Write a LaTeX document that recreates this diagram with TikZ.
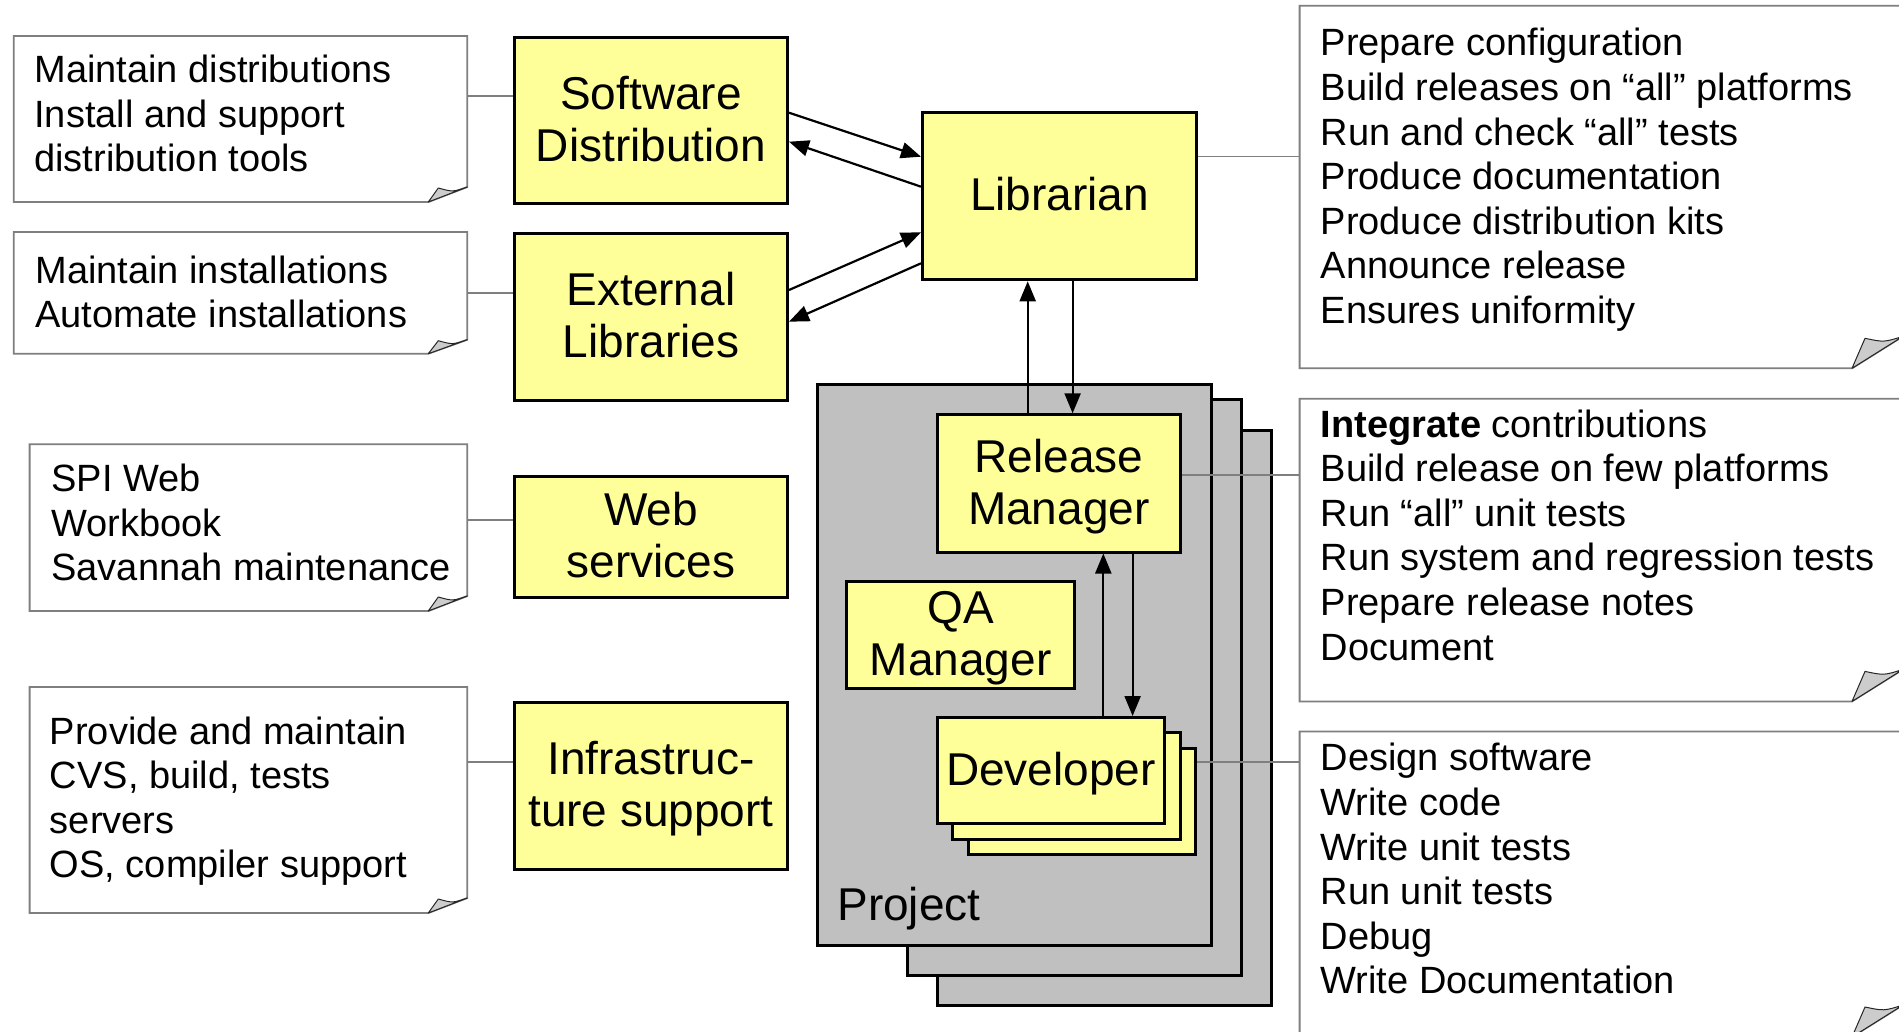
\documentclass[tikz,border=0pt]{standalone}
\usepackage{fontspec}
\setmainfont{Liberation Sans}
\usetikzlibrary{arrows.meta}
\definecolor{yfill}{HTML}{FFFF99}
\definecolor{projgray}{HTML}{C0C0C0}
\definecolor{notegray}{HTML}{7F7F7F}
\definecolor{foldgray}{HTML}{CCCCCC}
\newcommand\boxfont{\fontsize{23}{26}\selectfont}
\newcommand\notefont{\fontsize{19}{22.3}\selectfont}
\newcommand\btext[1]{\raisebox{-2.15pt}[\height][\depth]{\begin{tabular}{@{}c@{}}#1\end{tabular}}}
\newcommand\ntext[1]{\begin{tabular}[t]{@{}l@{}}#1\end{tabular}}
\tikzset{
  ybox/.style={draw=black, line width=1.5pt, fill=yfill, inner sep=0pt, font=\boxfont},
  sz/.style 2 args={minimum width=#1*0.5pt, minimum height=#2*0.5pt},
  projbox/.style={draw=black, line width=1.5pt, fill=projgray, inner sep=0pt},
  notearea/.style={inner sep=0pt, outer sep=0pt, anchor=north west},
  noteline/.style={draw=notegray, line width=0.9pt, fill=white},
  foldtri/.style={draw=black!85, line width=0.5pt, fill=foldgray, line join=round},
  notetext/.style={inner sep=0pt, anchor=base west, font=\notefont},
  link/.style={draw=notegray, line width=0.8pt},
  arr/.style={draw=black, line width=1.1pt, -{Triangle[length=10pt,width=8pt]}},
}
% #1 node name, #2 fold width, #3 fold height, #4 inner x, #5 inner y
\newcommand\drawnote[5]{%
  \draw[noteline] (#1.north west) -- (#1.north east) -- ([shift={(0,-#3)}]#1.south east)
    -- ([shift={(-#2,0)}]#1.south east) -- (#1.south west) -- cycle;
  \draw[foldtri] ([shift={(-#2,0)}]#1.south east) -- ([shift={(-#4,-#5)}]#1.south east)
    .. controls ([shift={(-#4/2,-#5+4)}]#1.south east) .. ([shift={(0,-#3)}]#1.south east) -- cycle;
}
\begin{document}
\begin{tikzpicture}[x=0.5pt,y=-0.5pt]
\useasboundingbox (0,0) rectangle (1899,1032);
\clip (0,0) rectangle (1899,1032);
\fill[white] (0,0) rectangle (1899,1032);

% project stack
\node[projbox, sz={333.4}{574.7}, anchor=north west] (proj3) at (936.3,429) {};
\node[projbox, sz={333.4}{575.5}, anchor=north west] (proj2) at (906.3,398.3) {};
\node[projbox, sz={394}{561}, anchor=north west] (proj1) at (815.7,383.3) {};
\node[inner sep=0pt, anchor=base west, font=\boxfont] (projlabel) at (837,920.5) {Project};

% yellow boxes
\node[ybox, sz={273}{166}, anchor=north west] (sd) at (513,36) {\btext{Software\\Distribution}};
\node[ybox, sz={273}{167}, anchor=north west] (el) at (513,232) {\btext{External\\Libraries}};
\node[ybox, sz={273}{121}, anchor=north west] (ws) at (513,474.6) {\btext{Web\\services}};
\node[ybox, sz={273}{166.5}, anchor=north west] (is) at (513,701) {\btext{Infrastruc-\\ture support}};
\node[ybox, sz={274}{167.3}, anchor=north west] (lib) at (921,111) {\btext{Librarian}};
\node[ybox, sz={243.4}{137.2}, anchor=north west] (rm) at (935.6,413.3) {\btext{Release\\Manager}};
\node[ybox, sz={228.4}{107}, anchor=north west] (qa) at (845,580) {\btext{QA\\Manager}};
\node[ybox, sz={227}{106.5}, anchor=north west] (dev3) at (967,746.7) {};
\node[ybox, sz={227.7}{106.4}, anchor=north west] (dev2) at (951.3,731.4) {};
\node[ybox, sz={227.7}{106.4}, anchor=north west] (dev) at (935.6,716) {\btext{Developer}};

% notes
\node[notearea, sz={453.5}{166}] (n1) at (13.8,36) {};
\node[notearea, sz={453.5}{121.7}] (n2) at (13.8,232) {};
\node[notearea, sz={437.7}{166.8}] (n3) at (29.6,444.2) {};
\node[notearea, sz={437.7}{226}] (n4) at (29.6,687) {};
\node[notearea, sz={603.4}{362.6}] (n5) at (1299.6,5.7) {};
\node[notearea, sz={603.4}{302.7}] (n6) at (1299.6,398.7) {};
\node[notearea, sz={603.4}{305.6}] (n7) at (1299.6,731.4) {};
\drawnote{n1}{39}{15}{29}{14}
\drawnote{n2}{39}{14}{29}{13}
\drawnote{n3}{39}{15}{29}{14}
\drawnote{n4}{39}{15}{29}{14}
\drawnote{n5}{51}{32}{38}{30}
\drawnote{n6}{51}{32}{38}{30}
\drawnote{n7}{51}{32}{38}{30}

\node[notetext] (n1t) at (34,82.5) {\ntext{Maintain distributions\\Install and support\\distribution tools}};
\node[notetext] (n2t) at (35,283.3) {\ntext{Maintain installations\\Automate installations}};
\node[notetext] (n3t) at (51,491.4) {\ntext{SPI Web\\Workbook\\Savannah maintenance}};
\node[notetext] (n4t) at (49.5,744) {\ntext{Provide and maintain\\CVS, build, tests\\servers\\OS, compiler support}};
\node[notetext] (n5t) at (1320.3,56) {\ntext{Prepare configuration\\Build releases on “all” platforms\\Run and check “all” tests\\Produce documentation\\Produce distribution kits\\Announce release\\Ensures uniformity}};
\node[notetext] (n6t) at (1320.3,437) {\ntext{\textbf{Integrate} contributions\\Build release on few platforms\\Run “all” unit tests\\Run system and regression tests\\Prepare release notes\\Document}};
\node[notetext] (n7t) at (1320.3,770.8) {\ntext{Design software\\Write code\\Write unit tests\\Run unit tests\\Debug\\Write Documentation}};

% note links
\draw[link] (n1.east |- 0,96.3) -- (sd.west |- 0,96.3);
\draw[link] (n2.east |- 0,293) -- (el.west |- 0,293);
\draw[link] (n3.east |- 0,520) -- (ws.west |- 0,520);
\draw[link] (n4.east |- 0,762) -- (is.west |- 0,762);
\draw[link] (lib.east |- 0,156.7) -- (n5.west |- 0,156.7);
\draw[link] (rm.east |- 0,474.8) -- (n6.west |- 0,474.8);
\draw[link] (dev3.east |- 0,761.7) -- (n7.west |- 0,761.7);

% arrows
\draw[arr] (sd.east |- 0,112.7) -- (lib.west |- 0,156.7);
\draw[arr] (lib.west |- 0,186.7) -- (sd.east |- 0,141.7);
\draw[arr] (el.east |- 0,290) -- (lib.west |- 0,232.3);
\draw[arr] (lib.west |- 0,263.3) -- (el.east |- 0,321.7);
\draw[arr] (rm.north -| 1027.7,0) -- (lib.south -| 1027.7,0);
\draw[arr] (lib.south -| 1072.6,0) -- (rm.north -| 1072.6,0);
\draw[arr] (dev.north -| 1103.3,0) -- (rm.south -| 1103.3,0);
\draw[arr] (rm.south -| 1132.6,0) -- (dev.north -| 1132.6,0);
\end{tikzpicture}
\end{document}
